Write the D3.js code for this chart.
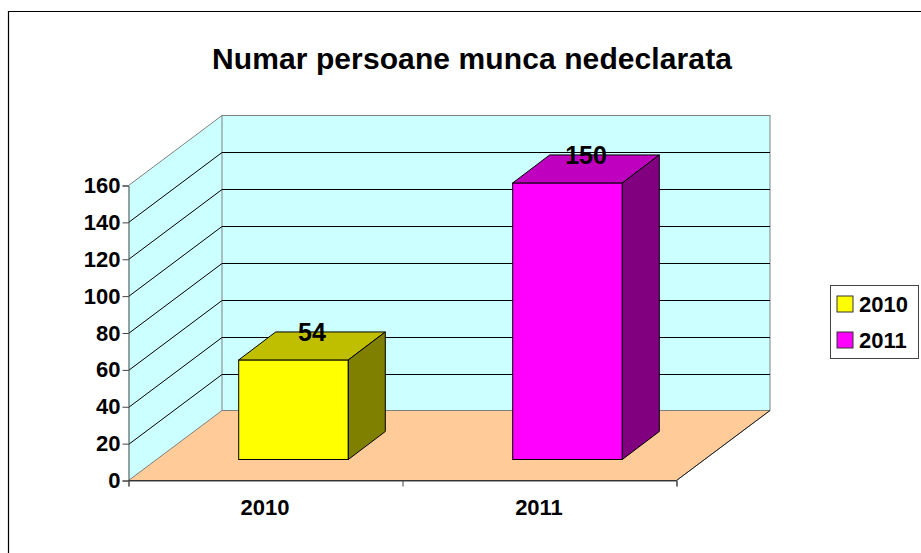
<!DOCTYPE html>
<html>
<head>
<meta charset="utf-8">
<script src="https://cdn.jsdelivr.net/npm/d3@7"></script>
<style>
  html, body { margin: 0; padding: 0; background: #fff; }
  svg { display: block; }
  text { font-family: "Liberation Sans", Arial, sans-serif; font-weight: bold; fill: #000; }
</style>
</head>
<body>
<div id="chart"></div>
<script>
var title = 'Numar persoane munca nedeclarata';
var categories = ['2010', '2011'];
var values = [54, 150];
var y_ticks = [0, 20, 40, 60, 80, 100, 120, 140, 160];
var front_colors = ['#ffff00', '#ff00ff'];
var top_colors = ['#bfbf00', '#bf00bf'];
var side_colors = ['#808000', '#800080'];

var chart_width = 921;
var chart_height = 553;

// depth of the 3d box, and how far the bars sit inside it
var depth_x = 93.5;
var depth_y = 70;
var bar_inset_x = 28;
var bar_inset_y = 21;
var bar_depth_x = 37;
var bar_depth_y = 28;

var svg = d3.select('#chart')
  .append('svg')
  .attr('width', chart_width)
  .attr('height', chart_height);

var x_scale = d3.scaleBand()
  .domain(categories)
  .range([128.5, 676.5])
  .paddingInner(0.6)
  .paddingOuter(0.3);

var x_axis_scale = d3.scalePoint()
  .domain([0, 1, 2])
  .range([128.5, 676.5]);

var y_scale = d3.scaleLinear()
  .domain([0, 160])
  .range([480.5, 185.5]);

function poly(points) {
  return points.map(function(p) { return p.join(','); }).join(' ');
}

// frame, only left and top are inside the picture
svg.append('path')
  .attr('d', 'M8.5,553V11.5H921')
  .attr('fill', 'none')
  .attr('stroke', '#000')
  .attr('stroke-width', 1.2);

svg.append('text')
  .attr('x', 472)
  .attr('y', 69)
  .attr('text-anchor', 'middle')
  .attr('font-size', 30)
  .attr('letter-spacing', 0.1)
  .text(title);

var x0 = x_scale.range()[0];
var x1 = x_scale.range()[1];
var y0 = y_scale(0);
var y_top = y_scale(160);

// side wall
svg.append('polygon')
  .attr('points', poly([[x0, y0], [x0, y_top], [x0 + depth_x, y_top - depth_y], [x0 + depth_x, y0 - depth_y]]))
  .attr('fill', '#ccffff');

// back wall
svg.append('rect')
  .attr('x', x0 + depth_x)
  .attr('y', y_top - depth_y)
  .attr('width', x1 - x0)
  .attr('height', y0 - y_top)
  .attr('fill', '#ccffff')
  .attr('stroke', '#808080');

// floor
svg.append('polygon')
  .attr('points', poly([[x0, y0], [x1, y0], [x1 + depth_x, y0 - depth_y], [x0 + depth_x, y0 - depth_y]]))
  .attr('fill', '#ffcc99')
  .attr('stroke', '#808080')
  .attr('stroke-width', 1);

// gridlines
svg.selectAll('.grid')
  .data(y_ticks.slice(1, -1))
  .enter()
  .append('path')
  .attr('class', 'grid')
  .attr('fill', 'none')
  .attr('stroke', '#000')
  .attr('d', function(d) {
    var y = Math.round(y_scale(d)) + 0.5;
    return 'M' + x0 + ',' + y + 'L' + (x0 + depth_x) + ',' + (y - depth_y) + 'H' + (x1 + depth_x);
  });

// top edge of the side wall
svg.append('path')
  .attr('d', 'M' + x0 + ',' + y_top + 'L' + (x0 + depth_x) + ',' + (y_top - depth_y))
  .attr('stroke', '#808080')
  .attr('fill', 'none');

// front floor edges
svg.append('path')
  .attr('d', 'M' + x0 + ',' + y0 + 'H' + x1 + 'L' + (x1 + depth_x) + ',' + (y0 - depth_y))
  .attr('stroke', '#222')
  .attr('fill', 'none');

// axes
var y_axis = d3.axisLeft(y_scale)
  .tickValues(y_ticks)
  .tickSize(6)
  .tickPadding(2);
var y_g = svg.append('g')
  .attr('class', 'y-axis')
  .attr('transform', 'translate(' + x0 + ',0)')
  .call(y_axis);

var x_axis = d3.axisBottom(x_axis_scale)
  .tickSize(6)
  .tickFormat('');
var x_g = svg.append('g')
  .attr('class', 'x-axis')
  .attr('transform', 'translate(0,' + y0 + ')')
  .call(x_axis);

svg.selectAll('.domain').attr('stroke', '#444');
svg.selectAll('.tick line').attr('stroke', '#444');
y_g.selectAll('text').attr('font-size', 22).style('font-family', '"Liberation Sans"').style('font-weight', 'bold');

// category labels
svg.selectAll('.cat-label')
  .data(categories)
  .enter()
  .append('text')
  .attr('class', 'cat-label')
  .attr('x', function(d) { return x_scale(d) + x_scale.bandwidth() / 2 - 0.5; })
  .attr('y', 515)
  .attr('text-anchor', 'middle')
  .attr('font-size', 22)
  .text(function(d) { return d; });

// bars
var base_y = y0 - bar_inset_y;
var bar_w = x_scale.bandwidth();
var bar_h = function(d) { return y_scale(0) - y_scale(d); };

var bars = svg.selectAll('.bar')
  .data(values)
  .enter()
  .append('g')
  .attr('class', 'bar')
  .attr('stroke', '#000')
  .attr('stroke-width', 1);

bars.append('rect')
  .attr('x', function(d, i) { return x_scale(categories[i]) + bar_inset_x; })
  .attr('y', function(d) { return base_y - bar_h(d); })
  .attr('width', bar_w)
  .attr('height', bar_h)
  .attr('fill', function(d, i) { return front_colors[i]; });

bars.append('polygon')
  .attr('points', function(d, i) {
    var left = x_scale(categories[i]) + bar_inset_x;
    var top = base_y - bar_h(d);
    return poly([[left, top], [left + bar_w, top], [left + bar_w + bar_depth_x, top - bar_depth_y], [left + bar_depth_x, top - bar_depth_y]]);
  })
  .attr('fill', function(d, i) { return top_colors[i]; });

bars.append('polygon')
  .attr('points', function(d, i) {
    var right = x_scale(categories[i]) + bar_inset_x + bar_w;
    var top = base_y - bar_h(d);
    return poly([[right, top], [right + bar_depth_x, top - bar_depth_y], [right + bar_depth_x, base_y - bar_depth_y], [right, base_y]]);
  })
  .attr('fill', function(d, i) { return side_colors[i]; });

// value labels
svg.selectAll('.value-label')
  .data(values)
  .enter()
  .append('text')
  .attr('class', 'value-label')
  .attr('x', function(d, i) { return x_scale(categories[i]) + bar_inset_x + bar_w / 2 + 18.5; })
  .attr('y', function(d) { return base_y - bar_h(d) - 19; })
  .attr('text-anchor', 'middle')
  .attr('font-size', 25)
  .text(function(d) { return d; });

// legend
var legend = svg.append('g').attr('class', 'legend');
legend.append('rect')
  .attr('x', 830.5)
  .attr('y', 285.5)
  .attr('width', 88)
  .attr('height', 73)
  .attr('fill', '#fff')
  .attr('stroke', '#444');

var legend_y = d3.scalePoint()
  .domain(categories)
  .range([304, 340]);

legend.selectAll('.swatch')
  .data(categories)
  .enter()
  .append('rect')
  .attr('class', 'swatch')
  .attr('x', 837)
  .attr('y', function(d) { return legend_y(d) - 8; })
  .attr('width', 16)
  .attr('height', 16)
  .attr('fill', function(d, i) { return front_colors[i]; })
  .attr('stroke', '#333');

legend.selectAll('.legend-label')
  .data(categories)
  .enter()
  .append('text')
  .attr('class', 'legend-label')
  .attr('x', 859)
  .attr('y', function(d) { return legend_y(d) + 8; })
  .attr('font-size', 22)
  .text(function(d) { return d; });
</script>
</body>
</html>
